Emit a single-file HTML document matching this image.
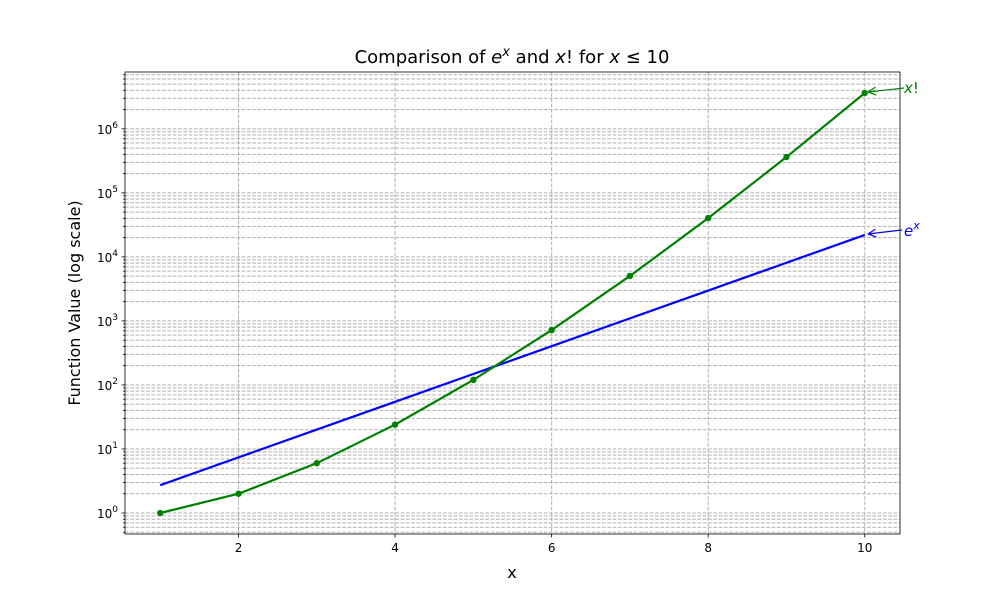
<!DOCTYPE html>
<html><head><meta charset="utf-8"><style>
body{margin:0;background:#fff;}
svg{font-family:"DejaVu Sans","Liberation Sans",sans-serif;}
</style></head><body>
<svg id="chart" width="1000" height="600" viewBox="0 0 1000 600">
<defs><marker id="arrG" markerWidth="10" markerHeight="10" refX="9" refY="5" orient="auto" markerUnits="userSpaceOnUse"><path d="M9,5 L1,1 M9,5 L1,9" stroke="green" fill="none" stroke-width="1.2"/></marker>
<marker id="arrB" markerWidth="10" markerHeight="10" refX="9" refY="5" orient="auto" markerUnits="userSpaceOnUse"><path d="M9,5 L1,1 M9,5 L1,9" stroke="blue" fill="none" stroke-width="1.2"/></marker></defs>
<g id="grid"></g>
<g id="series"></g>
<rect x="125" y="72" width="775" height="462" fill="none" stroke="#000" stroke-width="0.8"/>
<g id="ticks"></g>
<text x="512" y="63" text-anchor="middle" font-size="18">Comparison of <tspan font-style="italic">e</tspan><tspan font-style="italic" font-size="13" dy="-7">x</tspan><tspan dy="7"> and </tspan><tspan font-style="italic">x</tspan>! for <tspan font-style="italic">x</tspan> ≤ 10</text>
<text x="512" y="578" text-anchor="middle" font-size="16">x</text>
<text transform="translate(80,303) rotate(-90)" text-anchor="middle" font-size="16">Function Value (log scale)</text>
<line x1="904" y1="88" x2="868" y2="92" stroke="green" stroke-width="1.2" marker-end="url(#arrG)"/>
<text x="904" y="93" font-size="15" fill="green"><tspan font-style="italic">x</tspan>!</text>
<line x1="902" y1="230" x2="868" y2="234" stroke="blue" stroke-width="1.2" marker-end="url(#arrB)"/>
<text x="904" y="236" font-size="15" fill="blue" font-style="italic">e<tspan font-size="11" dy="-7">x</tspan></text>
</svg>
<script>
const xs=[1,2,3,4,5,6,7,8,9,10];
const factorialVals=[1,2,6,24,120,720,5040,40320,362880,3628800];
const expVals=[2.718,7.389,20.09,54.60,148.4,403.4,1096.6,2981,8103,22026];
const xTicks=[2,4,6,8,10];
const yDecades=[0,1,2,3,4,5,6];
const NS="http://www.w3.org/2000/svg";
const L=125,R=900,T=72,B=534;
const xmin=0.55,xmax=10.45,lmin=-0.328,lmax=6.888;
const X=v=>L+(v-xmin)/(xmax-xmin)*(R-L);
const Y=v=>B-(Math.log10(v)-lmin)/(lmax-lmin)*(B-T);
function mk(tag,attrs,parent){const e=document.createElementNS(NS,tag);for(const k in attrs)e.setAttribute(k,attrs[k]);parent.appendChild(e);return e;}
const grid=document.getElementById('grid'),ticks=document.getElementById('ticks'),series=document.getElementById('series');
for(let d=-1;d<=7;d++){for(let m=1;m<=9;m++){const v=m*Math.pow(10,d);const y=Y(v);if(y<T||y>B)continue;
 const g=mk('line',{x1:L,x2:R,y1:y,y2:y,stroke:'#b0b0b0','stroke-width':1,'stroke-dasharray':'3.7,1.6'},grid);
 
 
 const t=mk('line',{x1:L,x2:L-(m===1?3.5:2),y1:y,y2:y,stroke:'#000','stroke-width':0.8},ticks);
 
 }}
yDecades.forEach(d=>{const y=Y(Math.pow(10,d));
 const t=mk('text',{x:L-7,y:y+5,'text-anchor':'end','font-size':12},ticks);
 
 
 t.textContent='10';const s=mk('tspan',{'font-size':9,dy:-6},t);s.textContent=String(d);});
xTicks.forEach(v=>{const x=X(v);
 const g=mk('line',{x1:x,x2:x,y1:T,y2:B,stroke:'#b0b0b0','stroke-width':1,'stroke-dasharray':'3.7,1.6'},grid);
 
 
 const tk=mk('line',{x1:x,x2:x,y1:B,y2:B+3.5,stroke:'#000','stroke-width':0.8},ticks);
 
 
 const t=mk('text',{x:x,y:B+18,'text-anchor':'middle','font-size':12},ticks);
 
 
 t.textContent=String(v);});
const ep=mk('polyline',{points:xs.map((x,i)=>X(x)+','+Y(expVals[i])).join(' '),fill:'none',stroke:'blue','stroke-width':2.2},series);


const fp=mk('polyline',{points:xs.map((x,i)=>X(x)+','+Y(factorialVals[i])).join(' '),fill:'none',stroke:'green','stroke-width':2.2},series);


xs.forEach((x,i)=>{const c=mk('circle',{cx:X(x),cy:Y(factorialVals[i]),r:3.2,fill:'green'},series);
 
 });
</script>
</body></html>
